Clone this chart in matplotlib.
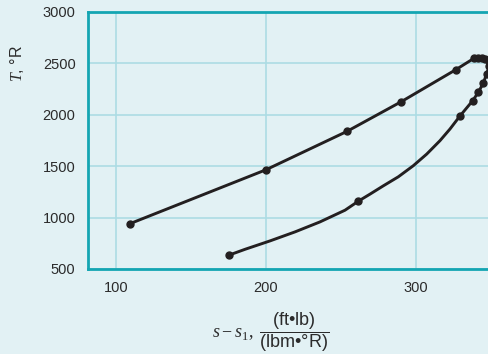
import matplotlib
matplotlib.use("Agg")
import matplotlib.pyplot as plt

plt.rcParams["mathtext.fontset"] = "custom"
plt.rcParams["mathtext.rm"] = "Liberation Serif"
plt.rcParams["mathtext.it"] = "Liberation Serif:italic"
plt.rcParams["mathtext.sf"] = "Liberation Sans"
plt.rcParams["font.family"] = ["Liberation Sans", "DejaVu Sans"]

# traced curve, upper branch then the loop back down
s_curve = [109.5, 200, 253.9, 290.2, 326.6, 338.6, 341.2, 343.9, 346.2, 348.6,
           347.0, 344.7, 341.4, 337.7, 329.2, 322.6, 315.9, 307.1, 298.1,
           288.2, 278.2, 269.3, 261.6, 252.7, 236.0, 219.4, 202.7, 186.2, 175.6]
T_curve = [941, 1465, 1838, 2128, 2440, 2550, 2552, 2550, 2542, 2470,
           2398, 2306, 2218, 2137, 1988, 1862, 1748, 1618, 1504,
           1397, 1309, 1228, 1160, 1072, 958, 861, 773, 692, 636]

# state points marked with dots
s_pts = [109.5, 200, 253.9, 290.2, 326.6, 338.6, 341.2, 343.9, 346.2, 348.6,
         347.0, 344.7, 341.4, 337.7, 329.2, 261.6, 175.6]
T_pts = [941, 1465, 1838, 2128, 2440, 2550, 2552, 2550, 2542, 2470,
         2398, 2306, 2218, 2137, 1988, 1160, 636]

xticks = [100, 200, 300]
yticks = [500, 1000, 1500, 2000, 2500, 3000]

bg = "#e2f1f4"
grid_c = "#acdce4"
spine_c = "#14a5b2"
ink = "#231f20"

fig = plt.figure(figsize=(4.88, 3.54), dpi=100, facecolor=bg)
ax = fig.add_axes([88 / 488, 85 / 354, 400 / 488, 257 / 354])
ax.set_facecolor(bg)

ax.plot(s_curve, T_curve, color=ink, lw=2.1, solid_capstyle="round",
        solid_joinstyle="round", zorder=3)
ax.plot(s_pts, T_pts, "o", color=ink, ms=5, zorder=4)

ax.set_xlim(81.56, 347.9)
ax.set_ylim(500, 3000)
ax.set_xticks(xticks)
ax.set_yticks(yticks)
ax.grid(True, color=grid_c, lw=1.2)
ax.set_axisbelow(True)
ax.tick_params(length=0, labelsize=10.5, colors="#2b2b2b", pad=9)

for side in ["left", "bottom", "top"]:
    ax.spines[side].set_color(spine_c)
    ax.spines[side].set_linewidth(2.0)
ax.spines["right"].set_visible(False)

ax.set_ylabel(r"$T$, °R", fontsize=11.5, color="#2b2b2b")
ax.yaxis.set_label_coords(-0.155, 0.80)
ax.set_xlabel(r"$s - s_1,\ \dfrac{\mathsf{(ft•lb)}}{\mathsf{(lbm•°R)}}$",
              fontsize=13, color="#2b2b2b")
ax.xaxis.set_label_coords(0.456, -0.16)

fig.savefig("out.png", dpi=100, facecolor=bg)
